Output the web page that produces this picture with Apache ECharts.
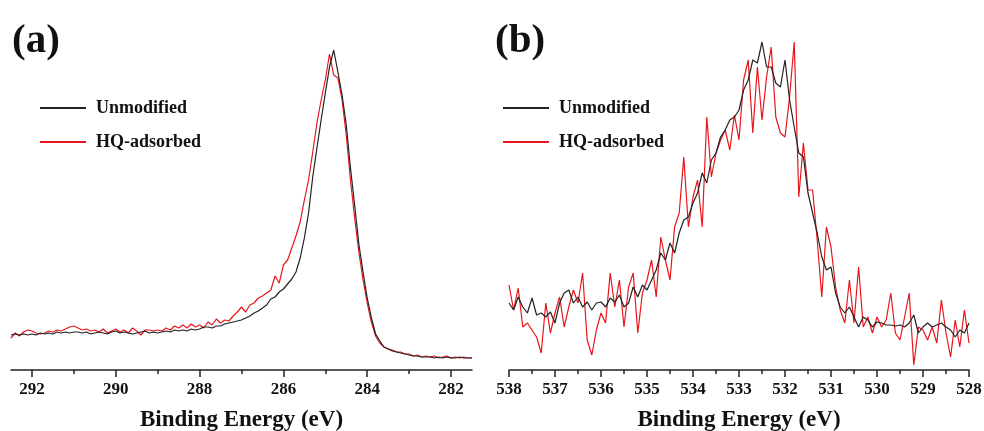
<!DOCTYPE html>
<html><head><meta charset="utf-8">
<script src="https://cdn.jsdelivr.net/npm/echarts@6/dist/echarts.min.js"></script>
<style>html,body{margin:0;padding:0;background:#fff}#c{width:984px;height:431px}</style>
</head><body><div id="c"></div>
<script>
// ---------- data ----------
const seriesNames = ['Unmodified', 'HQ-adsorbed'];
const panelLabels = ['(a)', '(b)'];
const axisTitle = 'Binding Energy (eV)';

// panel (a): C 1s, 292.5 -> 281.5 eV, step 0.1 eV (intensity, a.u.)
const energyStartA = 292.5, energyStepA = 0.1;
const unmodifiedA = [
  35,36,35,36,35,36,35,37,36,37,
  36,38,37,38,37,38,38,37,38,36,
  37,38,37,36,38,39,37,38,37,36,
  37,38,39,37,38,37,38,39,38,40,
  39,40,39,41,40,41,43,43,42,44,
  44,46,47,48,49,50,52,54,57,59,
  62,65,71,73,78,81,86,91,98,112,
  132,157,193,222,250,277,303,320,298,275,
  245,202,165,126,98,72,52,36,29,23,
  21,19,18,17,16,15,14,14,13,13,
  13,12,13,12,13,12,12,13,12,12,
  12
];
const hqA = [
  32,37,34,38,40,39,37,36,37,39,
  38,40,39,41,43,44,42,40,41,39,
  40,38,41,37,39,41,38,40,37,42,
  39,35,40,40,39,40,39,42,40,44,
  42,45,42,46,43,45,42,48,45,51,
  47,50,49,54,58,63,58,65,67,72,
  74,77,80,94,87,105,110,122,134,148,
  170,190,218,247,270,290,316,295,292,270,
  235,190,152,118,90,67,48,34,27,23,
  21,20,18,18,16,16,14,15,13,14,
  13,14,12,13,14,12,13,12,13,12,
  12
];
const ticksA = [282, 284, 286, 288, 290, 292];
const minorTicksA = [283, 285, 287, 289, 291];
const rangeA = [281.5, 292.5];

// panel (b): O 1s, 538.0 -> 528.0 eV, step 0.1 eV (intensity, a.u.)
const energyStartB = 538.0, energyStepB = 0.1;
const unmodifiedB = [
  67,60,73,63,57,72,55,57,53,58,
  47,67,77,80,67,73,63,68,60,67,
  68,63,72,68,75,63,67,83,73,85,
  80,90,100,117,110,127,117,137,150,153,
  167,177,197,187,210,217,233,240,250,253,
  260,280,290,310,307,328,303,303,287,283,
  310,270,243,217,213,177,157,137,113,100,
  103,77,63,57,63,53,43,53,50,43,
  48,47,45,45,44,45,43,47,55,37,
  43,47,43,45,47,43,40,33,40,37,47
];
const hqB = [
  85,60,82,43,47,40,33,17,67,37,
  57,73,43,63,80,67,97,30,15,40,
  57,47,97,63,90,43,83,97,37,77,
  90,110,73,133,110,90,143,157,213,143,
  173,190,143,253,193,217,230,240,220,255,
  230,290,310,237,303,250,293,323,253,237,
  233,273,328,173,227,180,180,130,73,143,
  123,83,60,47,90,47,103,43,53,37,
  53,43,50,77,37,30,53,77,5,43,
  40,30,43,27,70,37,13,50,23,60,27
];
const ticksB = [528,529,530,531,532,533,534,535,536,537,538];
const minorTicksB = [528.5,529.5,530.5,531.5,532.5,533.5,534.5,535.5,536.5,537.5];
const rangeB = [528, 538];

// ---------- build ----------
function pairs(start, step, vals) {
  return vals.map((v, i) => [Math.round((start - step * i) * 100) / 100, v]);
}
const FONT = "'Liberation Serif','Times New Roman',serif";
const BLACK = '#222222', RED = '#e8161c';

function mainX(grid, range, ticks) {
  return {
    gridIndex: grid, type: 'value', min: range[0], max: range[1], inverse: true,
    position: 'bottom',
    axisLine: { show: true, lineStyle: { color: '#222', width: 1.5 } },
    axisTick: { show: true, customValues: ticks, length: 7, lineStyle: { color: '#222', width: 1.5 } },
    axisLabel: { show: true, customValues: ticks, margin: 11, color: '#111', fontFamily: FONT, fontWeight: 'bold', fontSize: 17 },
    splitLine: { show: false },
    name: axisTitle, nameLocation: 'middle', nameGap: 39,
    nameTextStyle: { color: '#111', fontFamily: FONT, fontWeight: 'bold', fontSize: 23 }
  };
}
function minorX(grid, range, ticks) {
  return {
    gridIndex: grid, type: 'value', min: range[0], max: range[1], inverse: true,
    position: 'bottom',
    axisLine: { show: false },
    axisTick: { show: true, customValues: ticks, length: 4, lineStyle: { color: '#222', width: 1.5 } },
    axisLabel: { show: false },
    splitLine: { show: false }
  };
}
function line(name, xi, yi, color, data) {
  return {
    name, type: 'line', xAxisIndex: xi, yAxisIndex: yi, data,
    color, symbol: 'none', showSymbol: false, smooth: false,
    lineStyle: { color, width: 1.2 }, z: name === seriesNames[0] ? 3 : 2
  };
}
const legendBase = {
  orient: 'vertical', top: 99, padding: 0, itemWidth: 46, itemHeight: 2, itemGap: 16,
  icon: 'rect', data: seriesNames, selectedMode: false,
  textStyle: { color: '#111', fontFamily: FONT, fontWeight: 'bold', fontSize: 18, padding: [0, 0, 0, 5] }
};

const option = {
  animation: false,
  backgroundColor: '#fff',
  title: [
    { text: panelLabels[0], left: 12, top: 21, padding: 0, textStyle: { color: '#111', fontFamily: FONT, fontWeight: 'bold', fontSize: 41 } },
    { text: panelLabels[1], left: 495, top: 21, padding: 0, textStyle: { color: '#111', fontFamily: FONT, fontWeight: 'bold', fontSize: 41 } }
  ],
  legend: [
    Object.assign({}, legendBase, { left: 40 }),
    Object.assign({}, legendBase, { left: 503 })
  ],
  grid: [
    { left: 11, width: 461, top: 40, height: 330, outerBoundsMode: 'none', containLabel: false },
    { left: 509, width: 460, top: 40, height: 330, outerBoundsMode: 'none', containLabel: false }
  ],
  xAxis: [
    mainX(0, rangeA, ticksA), minorX(0, rangeA, minorTicksA),
    mainX(1, rangeB, ticksB), minorX(1, rangeB, minorTicksB)
  ],
  yAxis: [
    { gridIndex: 0, type: 'value', min: 0, max: 330, show: false },
    { gridIndex: 1, type: 'value', min: 0, max: 330, show: false }
  ],
  series: [
    line(seriesNames[1], 0, 0, RED, pairs(energyStartA, energyStepA, hqA)),
    line(seriesNames[0], 0, 0, BLACK, pairs(energyStartA, energyStepA, unmodifiedA)),
    line(seriesNames[1], 2, 1, RED, pairs(energyStartB, energyStepB, hqB)),
    line(seriesNames[0], 2, 1, BLACK, pairs(energyStartB, energyStepB, unmodifiedB))
  ]
};
const chart = echarts.init(document.getElementById('c'), null, { renderer: 'canvas' });
chart.setOption(option);
</script>
</body></html>
